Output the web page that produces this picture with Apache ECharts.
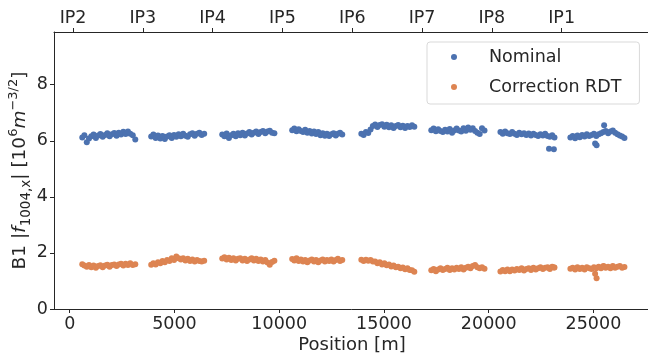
<!DOCTYPE html>
<html>
<head>
<meta charset="utf-8">
<script src="https://cdn.jsdelivr.net/npm/echarts@6/dist/echarts.min.js"></script>
<style>
html, body { margin: 0; padding: 0; background: #fff; }
#chart { width: 648px; height: 357px; }
</style>
</head>
<body>
<div id="chart"></div>
<script>
// BPM positions along the ring [m], one list per arc
var arcPos = [
	[600, 700, 815, 920, 1030, 1140, 1250, 1360, 1465, 1575, 1690, 1795, 1905, 2015, 2125, 2235, 2340, 2450, 2560, 2670, 2780, 2890, 3010, 3130],
	[3890, 3995, 4105, 4215, 4325, 4430, 4540, 4650, 4760, 4870, 4980, 5090, 5200, 5305, 5415, 5525, 5635, 5745, 5855, 5965, 6075, 6190, 6300, 6420],
	[7280, 7385, 7490, 7600, 7710, 7815, 7925, 8035, 8140, 8250, 8360, 8465, 8575, 8685, 8790, 8900, 9010, 9115, 9225, 9335, 9440, 9550, 9660, 9770],
	[10620, 10720, 10825, 10930, 11035, 11140, 11240, 11345, 11450, 11555, 11660, 11760, 11865, 11970, 12075, 12180, 12280, 12385, 12490, 12595, 12700, 12800, 12905, 13010],
	[13920, 14030, 14140, 14250, 14360, 14470, 14580, 14690, 14800, 14910, 15020, 15130, 15240, 15350, 15460, 15570, 15680, 15790, 15900, 16010, 16120, 16230, 16340, 16450],
	[17260, 17370, 17480, 17590, 17700, 17810, 17920, 18030, 18140, 18250, 18360, 18470, 18580, 18690, 18800, 18910, 19020, 19130, 19240, 19350, 19460, 19570, 19680, 19800],
	[20560, 20670, 20785, 20895, 21010, 21120, 21235, 21345, 21460, 21570, 21685, 21795, 21910, 22020, 22135, 22245, 22360, 22470, 22585, 22695, 22810, 22920, 23030, 23140, 22880, 23110],
	[23900, 24010, 24125, 24235, 24350, 24460, 24575, 24685, 24800, 24910, 25025, 25135, 25250, 25360, 25475, 25585, 25700, 25810, 25925, 26035, 26150, 26260, 26370, 26480, 25080, 25150, 25510]
];

var nominal = [
	[6.12, 6.20, 5.95, 6.08, 6.16, 6.22, 6.10, 6.19, 6.24, 6.14, 6.21, 6.27, 6.16, 6.23, 6.28, 6.18, 6.29, 6.22, 6.32, 6.24, 6.33, 6.25, 6.20, 6.05],
	[6.15, 6.22, 6.10, 6.19, 6.08, 6.17, 6.06, 6.15, 6.20, 6.10, 6.21, 6.14, 6.23, 6.16, 6.25, 6.18, 6.14, 6.23, 6.27, 6.18, 6.25, 6.29, 6.21, 6.25],
	[6.22, 6.16, 6.26, 6.10, 6.20, 6.25, 6.16, 6.27, 6.20, 6.29, 6.19, 6.26, 6.31, 6.22, 6.29, 6.33, 6.24, 6.31, 6.35, 6.27, 6.33, 6.36, 6.29, 6.27],
	[6.38, 6.44, 6.34, 6.41, 6.35, 6.31, 6.39, 6.29, 6.35, 6.26, 6.33, 6.24, 6.31, 6.20, 6.27, 6.18, 6.25, 6.17, 6.23, 6.27, 6.19, 6.25, 6.29, 6.22],
	[6.25, 6.21, 6.31, 6.28, 6.40, 6.53, 6.58, 6.49, 6.56, 6.59, 6.50, 6.57, 6.48, 6.55, 6.46, 6.53, 6.56, 6.48, 6.54, 6.46, 6.53, 6.49, 6.55, 6.50],
	[6.38, 6.44, 6.34, 6.41, 6.35, 6.31, 6.39, 6.33, 6.42, 6.29, 6.37, 6.44, 6.37, 6.33, 6.45, 6.36, 6.47, 6.39, 6.45, 6.35, 6.29, 6.24, 6.45, 6.37],
	[6.31, 6.25, 6.33, 6.27, 6.24, 6.31, 6.25, 6.21, 6.29, 6.23, 6.27, 6.21, 6.26, 6.19, 6.25, 6.21, 6.17, 6.23, 6.19, 6.25, 6.17, 6.14, 6.20, 6.12, 5.72, 5.70],
	[6.12, 6.17, 6.09, 6.19, 6.13, 6.21, 6.15, 6.23, 6.17, 6.21, 6.25, 6.17, 6.23, 6.27, 6.31, 6.35, 6.27, 6.33, 6.37, 6.29, 6.23, 6.19, 6.15, 6.10, 5.90, 5.84, 6.55]
];

var correction = [
	[1.60, 1.55, 1.51, 1.57, 1.49, 1.55, 1.47, 1.53, 1.56, 1.49, 1.55, 1.58, 1.51, 1.57, 1.59, 1.53, 1.59, 1.61, 1.55, 1.61, 1.57, 1.63, 1.57, 1.60],
	[1.58, 1.63, 1.59, 1.67, 1.63, 1.71, 1.67, 1.75, 1.71, 1.81, 1.75, 1.87, 1.81, 1.77, 1.81, 1.73, 1.79, 1.71, 1.77, 1.69, 1.75, 1.71, 1.69, 1.72],
	[1.80, 1.85, 1.77, 1.83, 1.75, 1.81, 1.73, 1.79, 1.81, 1.73, 1.79, 1.71, 1.77, 1.81, 1.73, 1.79, 1.71, 1.77, 1.69, 1.75, 1.66, 1.58, 1.68, 1.72],
	[1.78, 1.73, 1.81, 1.71, 1.77, 1.69, 1.75, 1.67, 1.73, 1.77, 1.69, 1.75, 1.67, 1.73, 1.77, 1.69, 1.75, 1.71, 1.77, 1.69, 1.75, 1.79, 1.71, 1.75],
	[1.76, 1.71, 1.76, 1.72, 1.75, 1.69, 1.69, 1.63, 1.67, 1.59, 1.63, 1.56, 1.59, 1.52, 1.55, 1.49, 1.51, 1.45, 1.48, 1.42, 1.45, 1.39, 1.38, 1.33],
	[1.38, 1.43, 1.35, 1.41, 1.45, 1.39, 1.43, 1.47, 1.39, 1.45, 1.41, 1.47, 1.43, 1.49, 1.41, 1.47, 1.51, 1.45, 1.53, 1.57, 1.49, 1.45, 1.49, 1.44],
	[1.34, 1.39, 1.35, 1.41, 1.35, 1.41, 1.37, 1.43, 1.39, 1.45, 1.37, 1.43, 1.45, 1.39, 1.47, 1.41, 1.45, 1.49, 1.43, 1.47, 1.49, 1.43, 1.51, 1.48, 1.46, 1.48],
	[1.44, 1.47, 1.41, 1.49, 1.43, 1.47, 1.41, 1.49, 1.45, 1.43, 1.49, 1.45, 1.51, 1.45, 1.53, 1.47, 1.51, 1.45, 1.53, 1.47, 1.51, 1.53, 1.47, 1.50, 1.26, 1.10, 1.52]
];

var xTicks = [0, 5000, 10000, 15000, 20000, 25000];
var yTicks = [0, 2, 4, 6, 8];
var ipPos = [160, 3490, 6820, 10150, 13490, 16820, 20150, 23480];
var ipNames = ['IP2', 'IP3', 'IP4', 'IP5', 'IP6', 'IP7', 'IP8', 'IP1'];

var txt = '#262626';
var font = 'DejaVu Sans';

function buildPoints(vals) {
	var pts = [];
	for (var a = 0; a < arcPos.length; a++) {
		for (var i = 0; i < arcPos[a].length; i++) {
			pts.push([arcPos[a][i], vals[a][i]]);
		}
	}
	return pts;
}

var chart = echarts.init(document.getElementById('chart'));
chart.setOption({
	animation : false,
	textStyle : { fontFamily : font },
	grid : { left : 54, right : -2, top : 32, bottom : 48, outerBoundsMode : 'none', containLabel : false },
	legend : {
		orient : 'vertical',
		left : 427,
		top : 42,
		padding : [5, 18, 7, 24],
		itemWidth : 6,
		itemHeight : 6,
		itemGap : 10,
		icon : 'circle',
		backgroundColor : '#fff',
		borderColor : '#d9d9d9',
		borderWidth : 1,
		borderRadius : 3,
		textStyle : { fontSize : 17.5, color : txt, fontFamily : font, lineHeight : 20, padding : [0, 0, 0, 27] },
		data : ['Nominal', 'Correction RDT']
	},
	xAxis : [{
		type : 'value',
		position : 'bottom',
		min : -750,
		max : 27700,
		name : 'Position [m]',
		nameLocation : 'middle',
		nameGap : 27,
		nameMoveOverlap : false,
		nameTextStyle : { fontSize : 18, color : txt, fontFamily : font },
		axisLine : { show : true, onZero : false, lineStyle : { color : txt, width : 1 } },
		axisTick : { show : true, length : 4, customValues : xTicks, lineStyle : { color : txt } },
		axisLabel : {
			customValues : xTicks, fontSize : 17.5, color : txt, margin : 6, fontFamily : font,
			formatter : function(v) { return String(v); }
		},
		splitLine : { show : false }
	}, {
		type : 'value',
		position : 'top',
		min : -750,
		max : 27700,
		axisLine : { show : true, onZero : false, lineStyle : { color : txt, width : 1 } },
		axisTick : { show : true, length : 4, customValues : ipPos, lineStyle : { color : txt } },
		axisLabel : {
			customValues : ipPos, fontSize : 17.5, color : txt, margin : 5, fontFamily : font,
			formatter : function(v) { return ipNames[ipPos.indexOf(v)]; }
		},
		splitLine : { show : false }
	}],
	yAxis : {
		type : 'value',
		min : 0,
		max : 9.88,
		name : '{n|B1 |}{i|f}{sub|1004,x}{n|| [10}{sup|6}{i|m}{sup|\u22123/2}{n|]}',
		nameLocation : 'middle',
		nameRotate : 90,
		nameGap : 21,
		nameMoveOverlap : false,
		nameTextStyle : {
			color : txt,
			rich : {
				n : { fontSize : 18.5, color : txt, fontFamily : font, lineHeight : 26, verticalAlign : 'middle' },
				i : { fontSize : 18.5, color : txt, fontFamily : font, fontStyle : 'italic', lineHeight : 26, verticalAlign : 'middle' },
				sub : { fontSize : 13.5, color : txt, fontFamily : font, lineHeight : 13, verticalAlign : 'bottom' },
				sup : { fontSize : 13, color : txt, fontFamily : font, lineHeight : 13, verticalAlign : 'top' }
			}
		},
		axisLine : { show : true, onZero : false, lineStyle : { color : txt, width : 1 } },
		axisTick : { show : true, length : 4, customValues : yTicks, lineStyle : { color : txt } },
		axisLabel : { customValues : yTicks, fontSize : 17.5, color : txt, margin : 6, fontFamily : font },
		splitLine : { show : false }
	},
	series : [{
		name : 'Nominal',
		type : 'scatter',
		symbolSize : 6,
		itemStyle : { color : '#4c72b0', opacity : 1 },
		data : buildPoints(nominal)
	}, {
		name : 'Correction RDT',
		type : 'scatter',
		symbolSize : 6,
		itemStyle : { color : '#dd8452', opacity : 1 },
		data : buildPoints(correction)
	}]
});
</script>
</body>
</html>
